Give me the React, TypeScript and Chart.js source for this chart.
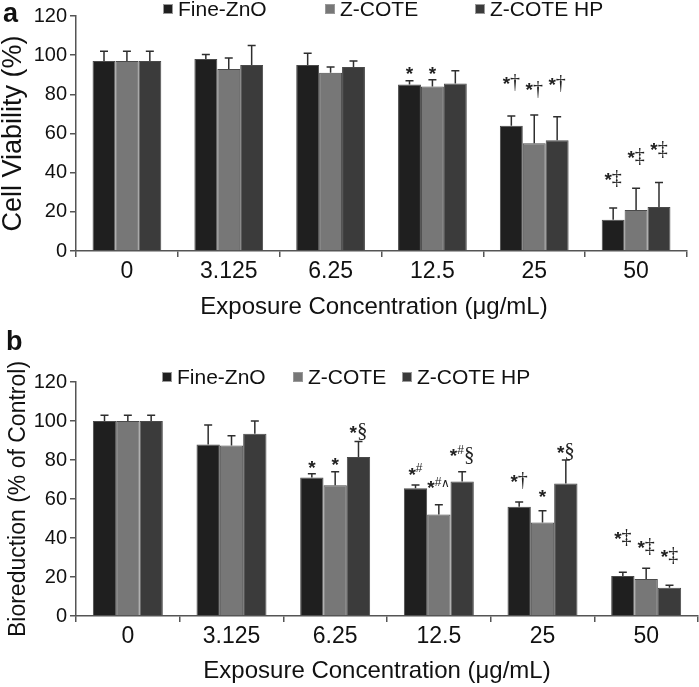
import React, { useEffect, useRef } from 'react';
import { Chart, registerables } from 'chart.js';

Chart.register(...registerables);

const categories = ['0', '3.125', '6.25', '12.5', '25', '50'];
const seriesNames = ['Fine-ZnO', 'Z-COTE', 'Z-COTE HP'];
const seriesColors = ['#1f1f1f', '#777777', '#3b3b3b'];
const yTicks = [0, 20, 40, 60, 80, 100, 120];

// Panel a: cell viability (%)
const viabilityFine = [97, 98, 95, 85, 64, 16];
const viabilityZcote = [97, 93, 91, 84, 55, 21];
const viabilityHp = [97, 95, 94, 85.5, 56.5, 22.5];
const viabilityFineErr = [5, 2.3, 6, 2, 5, 6];
const viabilityZcoteErr = [5, 5.6, 3, 3.5, 14.5, 11];
const viabilityHpErr = [5, 10, 3, 6.5, 12, 12.5];
// [category index, series index, label, value at which the label sits]
const viabilityMarks: [number, number, string, number][] = [
  [3, 0, '*', 93], [3, 1, '*', 93],
  [4, 0, '*†', 88], [4, 1, '*†', 84.5], [4, 2, '*†', 87.5],
  [5, 0, '*‡', 39], [5, 1, '*‡', 50], [5, 2, '*‡', 54],
];

// Panel b: bioreduction (% of control)
const bioFine = [100, 88, 71, 65.5, 56, 20.5];
const bioZcote = [100, 87.5, 67, 52, 48, 19];
const bioHp = [100, 93.5, 81.5, 69, 68, 14.5];
const bioFineErr = [3, 10, 2, 1.7, 2.5, 2];
const bioZcoteErr = [3, 5, 7, 5, 6, 5.5];
const bioHpErr = [3, 6.5, 8, 5, 12, 1.3];
const bioMarks: [number, number, string, number][] = [
  [2, 0, '*', 78.6], [2, 1, '*', 80.2], [2, 2, '*§', 96.6],
  [3, 0, '*#', 75], [3, 1, '*#∧', 68.1], [3, 2, '*#§', 84.4],
  [4, 0, '*†', 71.5], [4, 1, '*', 63.8], [4, 2, '*§', 86.2],
  [5, 0, '*‡', 42], [5, 1, '*‡', 37.4], [5, 2, '*‡', 32.9],
];

const SANS = '"Liberation Sans", Arial, Helvetica, sans-serif';
const SERIF = '"Liberation Serif", "Times New Roman", serif';
const STAR_SIZE = 19;

type Geom = {
  canvasTop: number;
  height: number;
  padTop: number;
  padRight: number;
  xAxisHeight: number;
  legendX: number[];
  legendY: number;
  letter: string;
  letterX: number;
  letterY: number;
  yTitle: string;
  yTitleSize: number;
  yTitleX: number;
  xTitleCx: number;
  xTitleY: number;
};

function glyphStyle(ch: string): { font: string; dy: number; star: boolean } {
  if (ch === '*') return { font: `bold ${STAR_SIZE}px ${SANS}`, dy: 0, star: true };
  if (ch === '†' || ch === '‡') return { font: `20px ${SERIF}`, dy: 4, star: false };
  if (ch === '§') return { font: `21px ${SERIF}`, dy: 4, star: false };
  if (ch === '#') return { font: `12px ${SANS}`, dy: -1, star: false };
  return { font: `12px ${SANS}`, dy: 0, star: false };
}

function Panel({ geom, values, errors, marks }: { geom: Geom; values: number[][]; errors: number[][]; marks: [number, number, string, number][] }) {
  const ref = useRef<HTMLCanvasElement | null>(null);

  useEffect(() => {
    const canvas = ref.current;
    if (!canvas) return;
    const g = geom;

    const extras = {
      id: 'extras',
      afterDatasetsDraw(chart: any) {
        const ctx = chart.ctx;
        const ys = chart.scales.y;
        ctx.save();
        ctx.strokeStyle = '#2e2e2e';
        ctx.lineWidth = 1.5;
        chart.data.datasets.forEach((ds: any, i: number) => {
          const meta = chart.getDatasetMeta(i);
          meta.data.forEach((el: any, j: number) => {
            const v = ds.data[j];
            const e = errors[i][j];
            const y0 = ys.getPixelForValue(v);
            const y1 = ys.getPixelForValue(v + e);
            ctx.beginPath();
            ctx.moveTo(el.x, y0);
            ctx.lineTo(el.x, y1);
            ctx.moveTo(el.x - 4, y1);
            ctx.lineTo(el.x + 4, y1);
            ctx.stroke();
          });
        });
        // significance marks
        ctx.fillStyle = '#222';
        marks.forEach(([ci, si, text, val]) => {
          const el = chart.getDatasetMeta(si).data[ci];
          const yc = ys.getPixelForValue(val);
          const chars = Array.from(text);
          const widths = chars.map((ch) => {
            ctx.font = glyphStyle(ch).font;
            return ctx.measureText(ch).width;
          });
          const total = widths.reduce((a, b) => a + b, 0);
          let x = el.x - total / 2;
          chars.forEach((ch, k) => {
            const st = glyphStyle(ch);
            ctx.font = st.font;
            ctx.textAlign = 'left';
            if (st.star) {
              ctx.textBaseline = 'alphabetic';
              ctx.fillText(ch, x, yc + 0.575 * STAR_SIZE);
            } else {
              ctx.textBaseline = 'middle';
              ctx.fillText(ch, x, yc + st.dy);
            }
            x += widths[k];
          });
        });
        ctx.restore();
      },
      afterDraw(chart: any) {
        const ctx = chart.ctx;
        const area = chart.chartArea;
        ctx.save();
        // legend
        chart.data.datasets.forEach((ds: any, i: number) => {
          const lx = g.legendX[i];
          ctx.fillStyle = ds.backgroundColor;
          ctx.fillRect(lx, g.legendY - 5, 10, 10);
          ctx.strokeStyle = '#999';
          ctx.lineWidth = 1;
          ctx.strokeRect(lx + 0.5, g.legendY - 4.5, 9, 9);
          ctx.fillStyle = '#111';
          ctx.font = `21px ${SANS}`;
          ctx.textAlign = 'left';
          ctx.textBaseline = 'middle';
          ctx.fillText(ds.label, lx + 15, g.legendY + 1);
        });
        // panel letter
        ctx.fillStyle = '#111';
        ctx.font = `bold 27px ${SANS}`;
        ctx.textAlign = 'left';
        ctx.textBaseline = 'alphabetic';
        ctx.fillText(g.letter, g.letterX, g.letterY);
        // x title
        ctx.font = `24px ${SANS}`;
        ctx.textAlign = 'center';
        ctx.fillText('Exposure Concentration (μg/mL)', g.xTitleCx, g.xTitleY);
        // y title
        ctx.translate(g.yTitleX, (area.top + area.bottom) / 2);
        ctx.rotate(-Math.PI / 2);
        ctx.font = `${g.yTitleSize}px ${SANS}`;
        ctx.textAlign = 'center';
        ctx.textBaseline = 'alphabetic';
        ctx.fillText(g.yTitle, 0, 0);
        ctx.restore();
      },
    };

    const chart = new Chart(canvas, {
      type: 'bar',
      data: {
        labels: categories,
        datasets: values.map((v, i) => ({
          label: seriesNames[i],
          data: v,
          backgroundColor: seriesColors[i],
          borderColor: '#4a4a4a',
          borderWidth: 1,
          barPercentage: 1,
          categoryPercentage: 0.675,
        })),
      },
      options: {
        responsive: false,
        animation: false,
        layout: { padding: { top: g.padTop, right: g.padRight, left: 0, bottom: 0 } },
        plugins: {
          legend: { display: false },
          title: { display: false },
          tooltip: { enabled: false },
        },
        scales: {
          x: {
            grid: { offset: true, drawOnChartArea: false, drawTicks: true, tickLength: 6, color: '#555', lineWidth: 1.5 },
            border: { display: true, color: '#555', width: 1.5 },
            ticks: { font: { family: SANS, size: 23 }, color: '#111', padding: 1, maxRotation: 0, autoSkip: false },
            afterFit: (s: any) => { s.height = g.xAxisHeight; },
          },
          y: {
            min: 0,
            max: 120,
            afterBuildTicks: (s: any) => { s.ticks = yTicks.map((v) => ({ value: v })); },
            ticks: { font: { family: SANS, size: 20 }, color: '#111', padding: 3 },
            grid: { drawOnChartArea: false, drawTicks: true, tickLength: 6, color: '#555', lineWidth: 1.5 },
            border: { display: true, color: '#555', width: 1.5 },
            afterFit: (s: any) => { s.width = 76; },
          },
        },
      } as any,
      plugins: [extras],
    });
    return () => chart.destroy();
  }, []);

  return (
    <canvas
      ref={ref}
      width={699}
      height={geom.height}
      style={{ position: 'absolute', left: 0, top: geom.canvasTop, width: 699, height: geom.height, display: 'block' }}
    />
  );
}

const geomA: Geom = {
  canvasTop: 0, height: 330, padTop: 16, padRight: 12, xAxisHeight: 79,
  legendX: [163, 325, 475], legendY: 9,
  letter: 'a', letterX: 3, letterY: 22,
  yTitle: 'Cell Viability (%)', yTitleSize: 27, yTitleX: 21,
  xTitleCx: 374, xTitleY: 314,
};

const geomB: Geom = {
  canvasTop: 330, height: 357, padTop: 52, padRight: 1, xAxisHeight: 71,
  legendX: [162, 293, 402], legendY: 47,
  letter: 'b', letterX: 6, letterY: 20,
  yTitle: 'Bioreduction (% of Control)', yTitleSize: 23, yTitleX: 25,
  xTitleCx: 377, xTitleY: 348,
};

export default function App() {
  return (
    <div style={{ position: 'absolute', left: 0, top: 0, width: 699, height: 687, background: '#fff' }}>
      <Panel
        geom={geomA}
        values={[viabilityFine, viabilityZcote, viabilityHp]}
        errors={[viabilityFineErr, viabilityZcoteErr, viabilityHpErr]}
        marks={viabilityMarks}
      />
      <Panel
        geom={geomB}
        values={[bioFine, bioZcote, bioHp]}
        errors={[bioFineErr, bioZcoteErr, bioHpErr]}
        marks={bioMarks}
      />
    </div>
  );
}
